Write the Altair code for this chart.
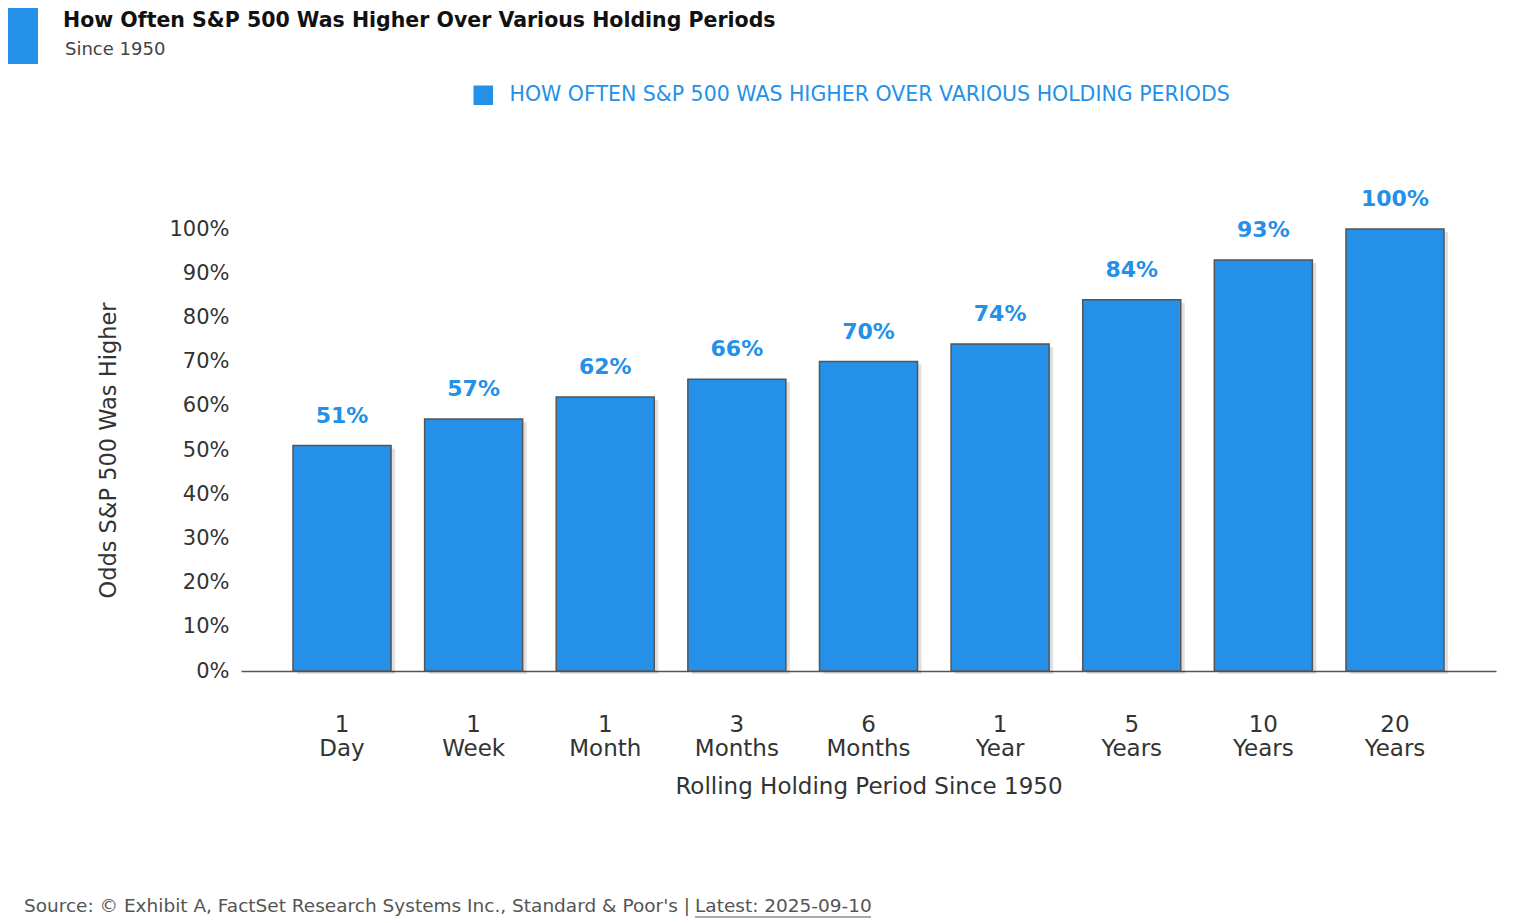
import altair as alt
import pandas as pd

periods = ["1 Day", "1 Week", "1 Month", "3 Months", "6 Months", "1 Year", "5 Years", "10 Years", "20 Years"]
period_num = ["1", "1", "1", "3", "6", "1", "5", "10", "20"]
period_unit = ["Day", "Week", "Month", "Months", "Months", "Year", "Years", "Years", "Years"]
odds = [51, 57, 62, 66, 70, 74, 84, 93, 100]
series_name = "HOW OFTEN S&P 500 WAS HIGHER OVER VARIOUS HOLDING PERIODS"

df = pd.DataFrame({
    "period": periods, "num": period_num, "unit": period_unit,
    "odds": odds, "series": [series_name] * len(periods),
})
df["label"] = df["odds"].astype(str) + "%"

BLUE = "#2490E8"
FONT = "DejaVu Sans"
TXT = "#333333"

xs = alt.X("period:N", sort=periods)

x_enc = alt.X(
    "period:N",
    sort=periods,
    scale=alt.Scale(paddingInner=0.255, paddingOuter=0.395),
    axis=alt.Axis(
        title="Rolling Holding Period Since 1950",
        labels=False,
        ticks=False,
        domainColor="#555555",
        domainWidth=1.5,
        titleFontSize=23,
        titleFont=FONT,
        titleFontWeight="normal",
        titleColor=TXT,
        titlePadding=104,
    ),
)
y_enc = alt.Y(
    "odds:Q",
    scale=alt.Scale(domain=[0, 100]),
    axis=alt.Axis(
        title="Odds S&P 500 Was Higher",
        values=list(range(0, 101, 10)),
        labelExpr="datum.value + '%'",
        labelFontSize=21,
        labelColor=TXT,
        labelFont=FONT,
        labelPadding=12,
        ticks=False,
        domain=False,
        grid=False,
        titleFontSize=22.5,
        titleFont=FONT,
        titleFontWeight="normal",
        titleColor=TXT,
        titlePadding=48,
    ),
)

base = alt.Chart(df)

shadow = base.mark_bar(color="#000000", opacity=0.12, xOffset=4, yOffset=3).encode(x=xs, y="odds:Q")

bars = base.mark_bar(stroke="#555555", strokeWidth=1.5).encode(
    x=x_enc,
    y=y_enc,
    color=alt.Color(
        "series:N",
        scale=alt.Scale(domain=[series_name], range=[BLUE]),
        legend=alt.Legend(
            title=None,
            orient="none",
            legendX=232,
            legendY=-144,
            symbolType="square",
            symbolSize=380,
            symbolStrokeWidth=0,
            labelFontSize=20.5,
            labelColor=BLUE,
            labelFont=FONT,
            labelLimit=0,
            labelOffset=16,
        ),
    ),
)

labels = base.mark_text(
    baseline="bottom", dy=-18, fontSize=22, fontWeight="bold", color=BLUE, font=FONT
).encode(x=xs, y="odds:Q", text="label:N")

num_labels = base.mark_text(fontSize=23, color=TXT, font=FONT, baseline="middle").encode(
    x=xs, y=alt.value(496), text="num:N"
)
unit_labels = base.mark_text(fontSize=23, color=TXT, font=FONT, baseline="middle").encode(
    x=xs, y=alt.value(520), text="unit:N"
)

# decorative header / footer
hdr = pd.DataFrame({"k": [0]})
accent = alt.Chart(hdr).mark_rect(color=BLUE).encode(
    x=alt.value(-238), x2=alt.value(-203), y=alt.value(-221), y2=alt.value(-165)
)
title = alt.Chart(hdr).mark_text(
    text="How Often S&P 500 Was Higher Over Various Holding Periods",
    align="left", baseline="middle", fontSize=20.5, fontWeight="bold", color="#111111", font=FONT,
).encode(x=alt.value(-178), y=alt.value(-208))
subtitle = alt.Chart(hdr).mark_text(
    text="Since 1950", align="left", baseline="middle", fontSize=18, color="#444444", font=FONT
).encode(x=alt.value(-176), y=alt.value(-179))
footer = alt.Chart(hdr).mark_text(
    text="Source: © Exhibit A, FactSet Research Systems Inc., Standard & Poor's |",
    align="right", baseline="middle", fontSize=18.5, color="#555555", font=FONT,
).encode(x=alt.value(449), y=alt.value(677))
footer2 = alt.Chart(hdr).mark_text(
    text="Latest: 2025-09-10", align="left", baseline="middle", fontSize=18.5, color="#555555", font=FONT,
).encode(x=alt.value(454), y=alt.value(677))
underline = alt.Chart(hdr).mark_rule(color="#555555", strokeWidth=1.2).encode(
    x=alt.value(454), x2=alt.value(630), y=alt.value(688)
)

chart = alt.layer(
    shadow, bars, labels, num_labels, unit_labels, accent, title, subtitle, footer, footer2, underline
).properties(
    width=1255,
    height=442,
    autosize=alt.AutoSizeParams(type="none"),
    padding={"left": 233, "top": 221, "right": 15, "bottom": 252},
).configure_view(strokeWidth=0)

chart.save("out.html", embed_options={"renderer": "svg", "actions": False})
